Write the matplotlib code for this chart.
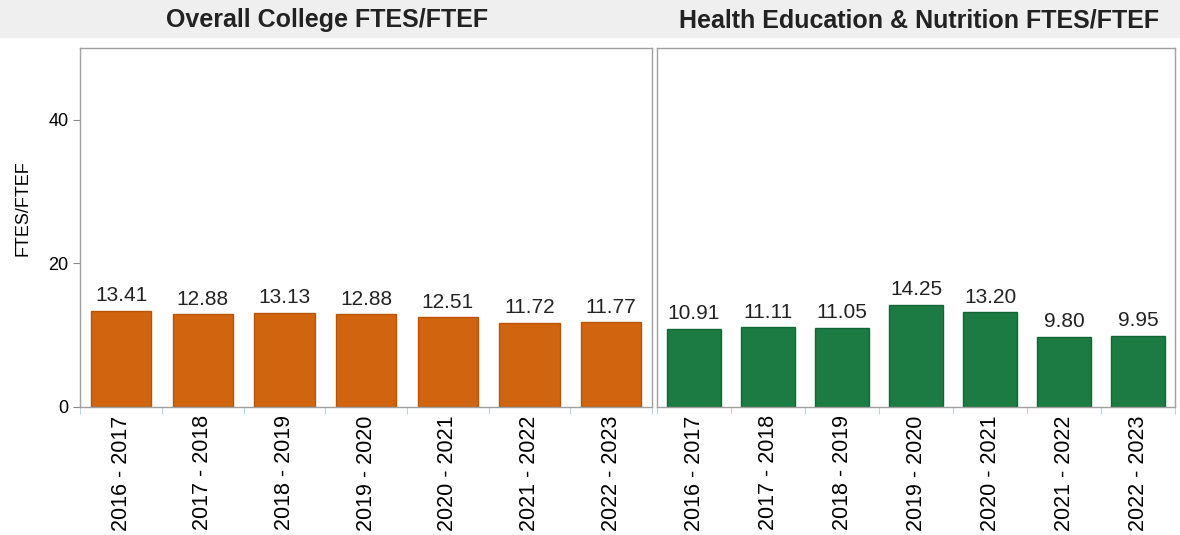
import matplotlib.pyplot as plt
import numpy as np

years = ["2016 - 2017", "2017 - 2018", "2018 - 2019", "2019 - 2020",
         "2020 - 2021", "2021 - 2022", "2022 - 2023"]
college = [13.41, 12.88, 13.13, 12.88, 12.51, 11.72, 11.77]
health = [10.91, 11.11, 11.05, 14.25, 13.20, 9.80, 9.95]
titles = ["Overall College FTES/FTEF", "Health Education & Nutrition FTES/FTEF"]

plt.rcParams['font.family'] = ['Liberation Sans', 'DejaVu Sans']
plt.rcParams['font.size'] = 13

fig = plt.figure(figsize=(11.8, 5.35), dpi=100)
# grey band behind the titles
fig.patches.append(plt.Rectangle((0, 0.93), 1, 0.07, transform=fig.transFigure,
                                 color='#efefef', zorder=0))

ax1 = fig.add_axes([0.068, 0.2393, 0.4845, 0.671])
ax2 = fig.add_axes([0.5568, 0.2393, 0.439, 0.671])

x = np.arange(len(years))
for ax, vals, color, edge in [(ax1, college, '#d0640f', '#b85508'),
                              (ax2, health, '#1c7a43', '#146636')]:
    bars = ax.bar(x, vals, width=0.74, color=color, edgecolor=edge, linewidth=1)
    ax.bar_label(bars, labels=["%.2f" % v for v in vals], padding=4, fontsize=15,
                 color='#222222')
    ax.set_ylim(0, 50)
    ax.set_xlim(-0.5, len(years) - 0.5)
    ax.set_xticks(x)
    ax.set_xticklabels(years, rotation=90, fontsize=15.5)
    ax.set_xticks(np.arange(len(years) + 1) - 0.5, minor=True)
    ax.tick_params(axis='x', which='major', length=0, pad=6)
    ax.tick_params(axis='x', which='minor', length=5, color='#aaccdd')
    for s in ax.spines.values():
        s.set_color('#a0a0a0')
        s.set_linewidth(1)

ax1.set_yticks([0, 20, 40])
ax1.tick_params(axis='y', length=5, color='#888888')
ax1.set_ylabel('FTES/FTEF')
ax1.yaxis.set_label_coords(-0.085, 0.555)
ax2.set_yticks([])

fig.text(0.277, 0.962, titles[0], ha='center', va='center', fontsize=18,
         fontweight='bold', color='#222222')
fig.text(0.779, 0.962, titles[1], ha='center', va='center', fontsize=18,
         fontweight='bold', color='#222222')

plt.savefig('out.png', dpi=100)
